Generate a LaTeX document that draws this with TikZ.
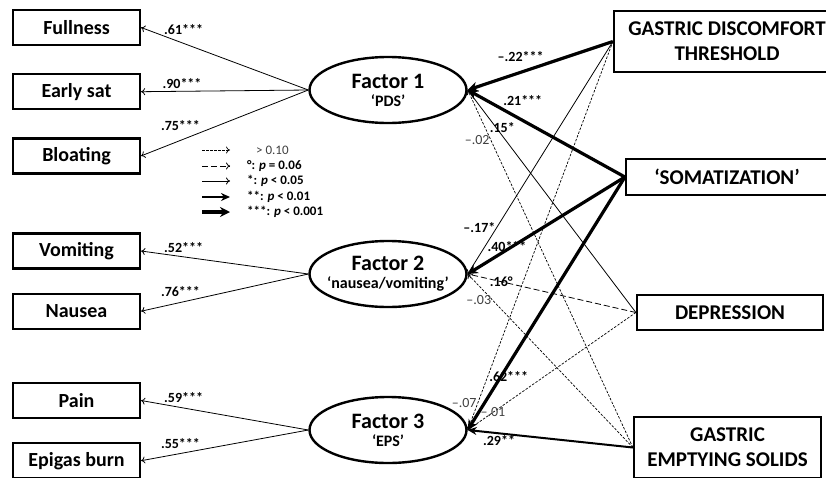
\documentclass[tikz,border=0pt]{standalone}
\usepackage{fontspec}
\setmainfont{Carlito}
\usetikzlibrary{arrows.meta,shapes.geometric,positioning}

\tikzset{
  itembox/.style={shape=rectangle, draw=black, line width=2.2pt, minimum width=127pt, minimum height=35pt, inner sep=0pt, font=\bfseries\fontsize{20}{22}\selectfont},
  measbox/.style={shape=rectangle, draw=black, line width=2.2pt, inner sep=0pt, align=center, font=\bfseries\fontsize{21}{25}\selectfont},
  factor/.style={shape=ellipse, draw=black, line width=2.4pt, minimum width=157pt, minimum height=66pt, inner sep=-12pt, align=center, font=\bfseries\fontsize{16}{18}\selectfont},
  lbl/.style={font=\bfseries\fontsize{14}{15}\selectfont, inner sep=1pt},
  lbllight/.style={font=\fontsize{14}{15}\selectfont, text=black!75, inner sep=1pt},
  load/.style={line width=0.8pt, -{To[length=4pt,width=7pt]}},
  pns/.style={line width=0.7pt, dash pattern=on 2.5pt off 1.5pt, -{To[length=4pt,width=7pt]}},
  ptrend/.style={line width=0.8pt, dash pattern=on 6pt off 3pt, -{To[length=4pt,width=7pt]}},
  pone/.style={line width=0.8pt, -{To[length=4pt,width=7pt]}},
  ptwo/.style={line width=2pt, -{Stealth[length=9pt,width=8pt]}},
  pthree/.style={line width=3.2pt, -{Stealth[length=10pt,width=10pt]}}
}
\newcommand{\facname}[2]{{\fontsize{22}{18}\selectfont #1}\\#2}

\begin{document}
\begin{tikzpicture}[x=1pt,y=-1pt]
\useasboundingbox (0,0) rectangle (826,477);

% symptoms
\node[itembox] (full) at (76.5,27.5) {Fullness};
\node[itembox, below=27pt of full] (early) {Early sat};
\node[itembox, below=27pt of early] (bloat) {Bloating};
\node[itembox] (vomit) at (76.5,251) {Vomiting};
\node[itembox, below=23pt of vomit] (naus) {Nausea};
\node[itembox] (pain) at (76.5,400.5) {Pain};
\node[itembox, below=23pt of pain] (epi) {Epigas burn};

% factors
\node[factor] (fac1) at (388,90) {\facname{Factor 1}{‘PDS’}};
\node[factor] (fac2) at (388,274) {\facname{Factor 2}{‘nausea/vomiting’}};
\node[factor] (fac3) at (388,430) {\facname{Factor 3}{‘EPS’}};

% predictors
\node[measbox, minimum width=226pt, minimum height=61pt] (gdt) at (727,41.5) {GASTRIC DISCOMFORT\\THRESHOLD};
\node[measbox, minimum width=202pt, minimum height=36pt] (som) at (727,177) {‘SOMATIZATION’};
\node[measbox, minimum width=186pt, minimum height=35pt] (dep) at (730,312.5) {DEPRESSION};
\node[measbox, minimum width=187pt, minimum height=61pt] (ges) at (727.5,447.5) {GASTRIC\\EMPTYING SOLIDS};

% loadings
\draw[load] (fac1.west) -- node[lbl, pos=0.87, anchor=south west] {.61***} (full.east);
\draw[load] (fac1.west) -- node[lbl, pos=0.88, anchor=south west, yshift=2pt] {.90***} (early.east);
\draw[load] (fac1.west) -- node[lbl, pos=0.64, anchor=south east] {.75***} (bloat.east);
\draw[load] (fac2.west) -- node[lbl, pos=0.87, anchor=south west] {.52***} (vomit.east);
\draw[load] (fac2.west) -- node[lbl, pos=0.64, anchor=south east] {.76***} (naus.east);
\draw[load] (fac3.west) -- node[lbl, pos=0.87, anchor=south west] {.59***} (pain.east);
\draw[load] (fac3.west) -- node[lbl, pos=0.64, anchor=south east] {.55***} (epi.east);

% paths to factor 1
\draw[pthree] (gdt.west) -- node[lbl, pos=0.46, anchor=south east] {--.22***} (fac1.east);
\draw[pthree] (som.west) -- node[lbl, pos=0.79, anchor=south west] {.21***} (fac1.east);
\draw[pone] (dep.west) -- node[lbl, pos=0.83, xshift=6pt] {.15*} (fac1.east);
\draw[pns] (ges.west) -- node[lbllight, pos=0.86, anchor=east] {--.02} (fac1.east);

% paths to factor 2
\draw[pone] (gdt.west) -- node[lbl, pos=0.80, anchor=east] {--.17*} (fac2.east);
\draw[pthree] (som.west) -- node[lbl, pos=0.75, yshift=3pt] {.40***} (fac2.east);
\draw[ptrend] (dep.west) -- node[lbl, pos=0.80] {.16°} (fac2.east);
\draw[pns] (ges.west) -- node[lbllight, pos=0.85, anchor=east] {--.03} (fac2.east);

% paths to factor 3
\draw[pns] (gdt.west) -- node[lbllight, pos=0.93, anchor=east] {--.07} (fac3.east);
\draw[pthree] (som.west) -- node[lbl, pos=0.79, xshift=8pt] {.62***} (fac3.east);
\draw[pns] (dep.west) -- node[lbllight, pos=0.85] {--.01} (fac3.east);
\draw[ptwo] (ges.west) -- node[lbl, pos=0.81, anchor=north] {.29**} (fac3.east);

% legend
\foreach \yy/\sty/\txt in {150/pns/{\mdseries\color{black!75}\hspace{9pt}> 0.10}, 166/ptrend/{°: \textit{p} = 0.06}, 181/pone/{*: \textit{p} < 0.05}, 197/ptwo/{**: \textit{p} < 0.01}, 212/pthree/{***: \textit{p} < 0.001}}{
  \coordinate (la\yy) at (202,\yy);
  \node[lbl, font=\bfseries\fontsize{13}{14}\selectfont, anchor=west] (lt\yy) at (246,\yy) {\txt};
  \draw[\sty] (la\yy) -- ++(28,0);
}
\end{tikzpicture}
\end{document}
